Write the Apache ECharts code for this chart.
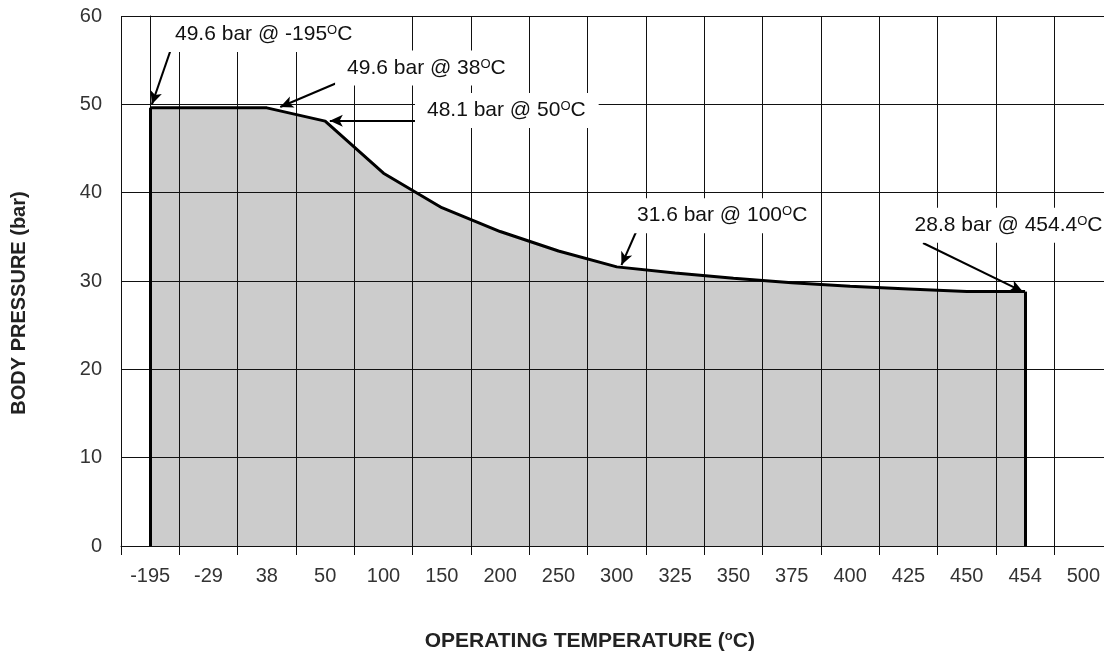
<!DOCTYPE html>
<html>
<head>
<meta charset="utf-8">
<script src="https://cdn.jsdelivr.net/npm/echarts@6/dist/echarts.min.js"></script>
<style>
html,body{margin:0;padding:0;background:#fff;}
#chart{width:1104px;height:652px;}
</style>
</head>
<body>
<div id="chart"></div>
<script>
// ---- data ----
const categories = ['-195','-29','38','50','100','150','200','250','300','325','350','375','400','425','450','454','500'];
const pressure = [49.6,49.6,49.6,48.1,42.2,38.3,35.6,33.4,31.6,30.9,30.3,29.8,29.4,29.1,28.8,28.8,null];
const yMin = 0, yMax = 60, yInterval = 10;

// ---- annotations (text, label anchor [categoryIndex, bar], arrow start, arrow tip) ----
const annoText = ['49.6 bar @ -195', '49.6 bar @ 38', '48.1 bar @ 50', '31.6 bar @ 100', '28.8 bar @ 454.4'];
const annoLabelAt = [[0.22,57.9],[3.17,54.1],[4.54,49.3],[8.14,37.4],[12.9,36.3]];
const annoArrowFrom = [[0.37,56.5],[3.37,52.9],[4.83,48.15],[8.36,36.0],[13.25,34.3]];
const annoArrowTo = [[0.03,50.0],[2.23,49.7],[3.08,48.15],[8.08,31.8],[14.96,28.8]];

const FONT = 'Liberation Sans, Arial, sans-serif';
const chart = echarts.init(document.getElementById('chart'), null, {renderer:'canvas'});

const lastIdx = pressure.length - 1 - [...pressure].reverse().findIndex(v => v != null);

const option = {
  animation: false,
  backgroundColor: '#fff',
  grid: {left: 121, top: 16, width: 991.6, height: 530, containLabel: false, outerBoundsMode: 'none'},
  xAxis: [{
    type: 'category',
    data: categories,
    boundaryGap: true,
    z: 3,
    axisLine: {show: true, lineStyle: {color: '#111', width: 1}},
    axisTick: {show: true, length: 9, interval: 0, lineStyle: {color: '#111'}},
    axisLabel: {interval: 0, fontSize: 20, color: '#333', fontFamily: FONT, margin: 20},
    splitLine: {show: true, interval: 0, lineStyle: {color: '#111', width: 1}},
    name: '{t|OPERATING TEMPERATURE (}{s|o}{t|C)}',
    nameLocation: 'middle',
    nameGap: 84,
    nameTextStyle: {
      padding: [0, 54, 0, 0],
      rich: {
        t: {fontSize: 21, fontWeight: 'bold', color: '#222', fontFamily: FONT, lineHeight: 22},
        s: {fontSize: 13, fontWeight: 'bold', color: '#222', fontFamily: FONT, lineHeight: 13, verticalAlign: 'top'}
      }
    }
  }, {
    type: 'value', min: -0.5, max: 16.5, show: false
  }],
  yAxis: [{
    type: 'value',
    min: yMin, max: yMax, interval: yInterval,
    z: 3,
    axisLine: {show: true, lineStyle: {color: '#111', width: 1}},
    axisTick: {show: true, length: 7, lineStyle: {color: '#111'}},
    axisLabel: {fontSize: 20, color: '#333', fontFamily: FONT, margin: 19},
    splitLine: {show: true, lineStyle: {color: '#111', width: 1}},
    name: 'BODY PRESSURE (bar)',
    nameLocation: 'middle',
    nameGap: 92,
    nameTextStyle: {fontSize: 20, fontWeight: 'bold', color: '#222', fontFamily: FONT, padding: [0, 44, 0, 0]}
  }],
  series: [{
    type: 'line',
    name: 'area',
    z: 1,
    data: pressure,
    symbol: 'none',
    lineStyle: {width: 0, opacity: 0},
    areaStyle: {color: '#cccccc', opacity: 1},
    silent: true
  }, {
    type: 'line',
    name: 'pressure',
    z: 4,
    data: pressure,
    symbol: 'none',
    lineStyle: {color: '#000', width: 3},
    silent: true,
    markLine: {
      silent: true,
      symbol: ['none', 'none'],
      label: {show: false},
      lineStyle: {color: '#000', width: 3, type: 'solid'},
      data: [
        [{coord: [categories[0], yMin]}, {coord: [categories[0], pressure[0]]}],
        [{coord: [categories[lastIdx], yMin]}, {coord: [categories[lastIdx], pressure[lastIdx]]}]
      ]
    }
  }, {
    type: 'scatter',
    name: 'annotations',
    xAxisIndex: 1,
    z: 6,
    silent: true,
    symbolSize: 0,
    itemStyle: {opacity: 1},
    data: annoLabelAt.map((p, i) => ({value: p, name: annoText[i]})),
    label: {
      show: true,
      position: 'inside',
      align: 'left',
      verticalAlign: 'middle',
      backgroundColor: '#fff',
      opacity: 1,
      padding: [7, 13, 7, 12],
      formatter: p => '{a|' + p.name + '}{s|O}{a|C}',
      rich: {
        a: {fontSize: 21, color: '#111', fontFamily: FONT, lineHeight: 21},
        s: {fontSize: 13, color: '#111', fontFamily: FONT, lineHeight: 13, verticalAlign: 'top'}
      }
    },
    markLine: {
      silent: true,
      symbol: ['none', 'arrow'],
      symbolSize: [9, 13],
      label: {show: false},
      lineStyle: {color: '#000', width: 2, type: 'solid', opacity: 1},
      data: annoArrowFrom.map((f, i) => [{coord: f}, {coord: annoArrowTo[i]}])
    }
  }]
};
chart.setOption(option);
</script>
</body>
</html>
